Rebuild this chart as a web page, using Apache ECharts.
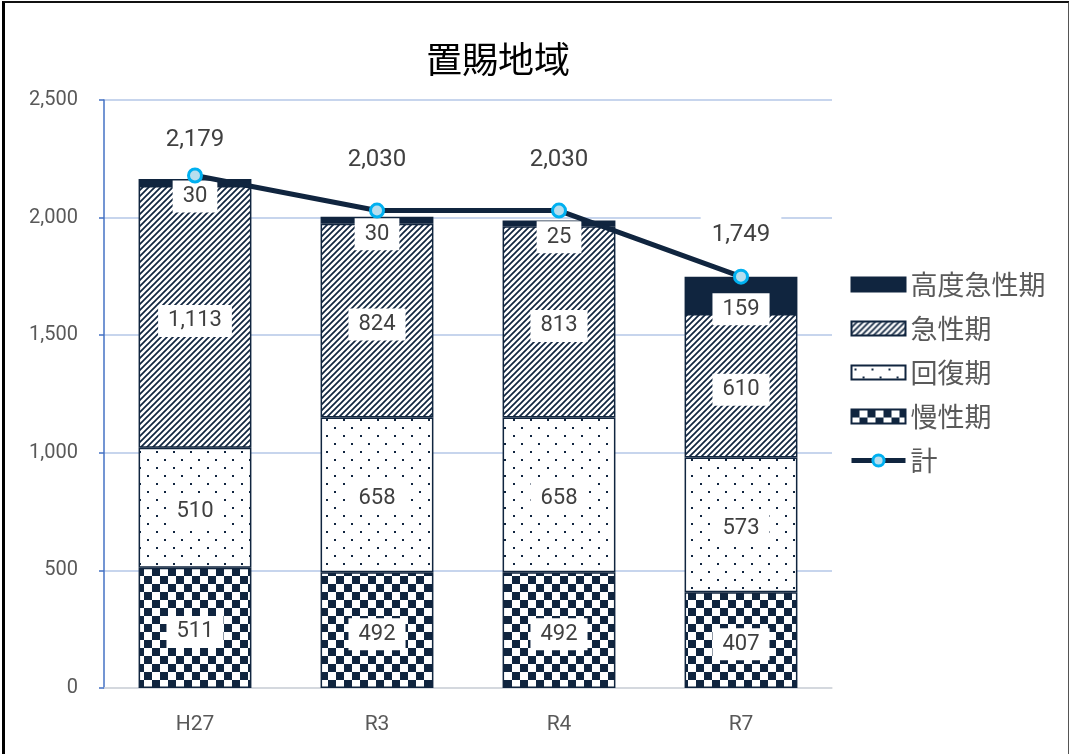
<!DOCTYPE html>
<html>
<head>
<meta charset="utf-8">
<script src="https://cdn.jsdelivr.net/npm/echarts@6/dist/echarts.min.js"></script>
<style>
  html, body { margin: 0; padding: 0; background: #fff; overflow: hidden; }
  #wrap { width: 1069px; height: 754px; position: relative; overflow: hidden; }
  #chart { position: absolute; left: 0; top: 0; width: 1069px; height: 754px; }
  #frame {
    position: absolute; left: 2px; top: 1px; width: 1063px; height: 800px;
    border-left: 3px solid #000; border-top: 2px solid #111; border-right: 2px solid #555;
    pointer-events: none;
  }
</style>
</head>
<body>
<div id="wrap"><div id="chart"></div><div id="frame"></div></div>
<script>
// 置賜地域 病床機能別の病床数
const categories = ['H27', 'R3', 'R4', 'R7'];
const chronic = [511, 492, 492, 407];      // 慢性期
const recovery = [510, 658, 658, 573];     // 回復期
const acute = [1113, 824, 813, 610];       // 急性期
const highAcute = [30, 30, 25, 159];       // 高度急性期
const total = [2179, 2030, 2030, 1749];    // 計
const yTicks = { min: 0, max: 2500, interval: 500 };

// vertical nudges for the 計 labels (px)
const totalLabelShift = [5, -11, -11, -2];

const NAVY = '#10253F';
const TEXT = '#404040';

// Fill patterns for the stacked bars
function pattern(w, h, draw) {
  const c = document.createElement('canvas');
  c.width = w; c.height = h;
  const ctx = c.getContext('2d');
  ctx.fillStyle = '#fff';
  ctx.fillRect(0, 0, w, h);
  ctx.fillStyle = NAVY;
  ctx.strokeStyle = NAVY;
  draw(ctx, w, h);
  return { image: c, repeat: 'repeat' };
}
const hatchFill = pattern(6, 6, (ctx, w, h) => {
  ctx.lineWidth = 1.7;
  ctx.beginPath();
  ctx.moveTo(-1, h + 1); ctx.lineTo(w + 1, -1);
  ctx.moveTo(-1, 1); ctx.lineTo(1, -1);
  ctx.moveTo(w - 1, h + 1); ctx.lineTo(w + 1, h - 1);
  ctx.stroke();
});
const dotFill = pattern(17, 16, (ctx) => {
  ctx.fillRect(3, 3, 2, 2);
  ctx.fillRect(11, 11, 2, 2);
});
const checkFill = pattern(16, 16, (ctx) => {
  ctx.fillRect(0, 0, 8, 8);
  ctx.fillRect(8, 8, 8, 8);
});

const fmt = v => Number(v).toLocaleString('en-US');

function barLabel(offsetY) {
  return {
    show: true,
    position: 'inside',
    offset: [0, offsetY],
    formatter: p => fmt(p.value),
    color: TEXT,
    fontSize: 22,
    fontFamily: 'Roboto',
    backgroundColor: '#fff',
    padding: [6, 10, 4, 10]
  };
}

function barSeries(name, data, fill, label) {
  return {
    name: name,
    type: 'bar',
    stack: 'beds',
    data: data,
    barWidth: '62%',
    itemStyle: { color: fill, borderColor: NAVY, borderWidth: 1.5 },
    label: label,
    emphasis: { disabled: true }
  };
}

const lineSymbolStyle = { color: '#B7DEEE', borderColor: '#00B0F0', borderWidth: 3 };

const chart = echarts.init(document.getElementById('chart'), null, { renderer: 'canvas' });
chart.setOption({
  animation: false,
  backgroundColor: '#fff',
  title: {
    text: '置賜地域',
    left: 493,
    top: 36,
    textAlign: 'center',
    textStyle: { fontSize: 36, fontWeight: 'normal', color: '#000', fontFamily: 'Noto Sans CJK JP' }
  },
  grid: { left: 104, right: 237, top: 100, bottom: 66 },
  legend: {
    orient: 'vertical',
    left: 849,
    top: 271,
    padding: 0,
    itemWidth: 54,
    itemHeight: 14,
    itemGap: 17,
    textStyle: { fontSize: 27, color: '#595959', fontFamily: 'Noto Sans CJK JP' },
    data: [
      { name: '高度急性期', icon: 'rect' },
      { name: '急性期', icon: 'rect' },
      { name: '回復期', icon: 'rect' },
      { name: '慢性期', icon: 'rect' },
      { name: '計', lineStyle: { width: 5, color: NAVY }, itemStyle: lineSymbolStyle }
    ]
  },
  xAxis: {
    type: 'category',
    data: categories,
    axisLine: { lineStyle: { color: '#D9D9D9', width: 1.5 } },
    axisTick: { show: false },
    axisLabel: { color: '#595959', fontSize: 21, fontFamily: 'Roboto', margin: 26 }
  },
  yAxis: {
    type: 'value',
    min: yTicks.min,
    max: yTicks.max,
    interval: yTicks.interval,
    axisLine: { show: true, lineStyle: { color: '#4472C4', width: 1.5 } },
    axisTick: { show: true, length: 5, lineStyle: { color: '#4472C4', width: 1.5 } },
    splitLine: { lineStyle: { color: '#B4C7E7', width: 1.5 } },
    axisLabel: { color: '#595959', fontSize: 20, fontFamily: 'Roboto', margin: 26, formatter: v => fmt(v) }
  },
  series: [
    barSeries('慢性期', chronic, checkFill, barLabel(4)),
    barSeries('回復期', recovery, dotFill, barLabel(4)),
    barSeries('急性期', acute, hatchFill, barLabel(4)),
    barSeries('高度急性期', highAcute, NAVY, barLabel(14)),
    {
      name: '計',
      type: 'line',
      data: total.map((v, i) => ({ value: v, label: { offset: [0, totalLabelShift[i]] } })),
      z: 5,
      symbol: 'circle',
      symbolSize: 13,
      lineStyle: { color: NAVY, width: 5 },
      itemStyle: lineSymbolStyle,
      label: {
        show: true,
        position: 'top',
        distance: 14,
        formatter: p => fmt(p.value),
        color: TEXT,
        fontSize: 24,
        fontFamily: 'Roboto',
        backgroundColor: '#fff',
        padding: [8, 11, 6, 11]
      },
      emphasis: { disabled: true }
    }
  ]
});
</script>
</body>
</html>
